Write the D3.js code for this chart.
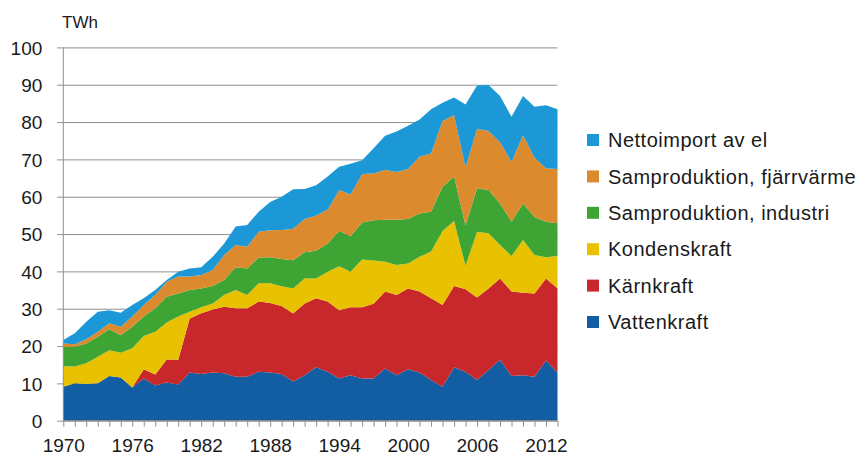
<!DOCTYPE html>
<html>
<head>
<meta charset="utf-8">
<script src="https://cdn.jsdelivr.net/npm/d3@7"></script>
<style>
	body { margin: 0; background: #fff; }
	text { font-family: "Liberation Sans", Arial, sans-serif; fill: #1a1a1a; }
	.axis path { display: none; }
	.axis line { stroke: #8f8f8f; }
</style>
</head>
<body>
<svg id="svg"></svg>
<script>
const years = d3.range(1970, 2014)

// series values, TWh per year
const vattenkraft = [9.1,10.0,9.8,10.0,12.0,11.6,8.9,11.3,9.4,10.2,9.7,12.9,12.5,12.9,12.7,11.8,11.8,13.1,12.9,12.5,10.5,12.2,14.3,13.1,11.3,12.2,11.3,11.3,14.0,12.2,13.8,12.9,10.9,9.1,14.3,13.1,10.9,13.6,16.3,12.0,12.2,11.8,16.1,12.9]
const karnkraft = [0,0,0,0,0,0,0,2.5,3.0,6.2,6.6,14.5,16.3,16.9,17.8,18.3,18.3,18.8,18.6,18.2,18.2,19.2,18.5,18.8,18.3,18.2,19.1,20.0,20.6,21.5,21.6,21.7,21.9,21.9,21.8,22.1,22.1,21.8,21.8,22.6,22.1,22.3,22.0,22.5]
const kondenskraft = [5.5,4.5,5.6,7.1,6.9,6.6,10.5,8.9,11.4,9.9,11.6,1.8,1.6,1.6,3.2,4.9,3.6,4.9,5.3,5.3,6.7,6.7,5.3,8.0,11.8,9.5,12.8,11.6,8.0,8.0,6.7,9.3,12.5,19.8,17.4,6.3,17.6,14.8,9.0,9.5,14.1,10.3,5.7,8.7]
const sampIndustri = [5.2,5.3,5.3,5.4,5.6,4.7,5.8,5.2,6.3,6.9,6.2,5.8,5.0,4.7,4.0,6.1,7.1,6.9,7.0,7.3,7.6,7.0,7.4,7.6,9.4,9.5,9.9,10.8,11.2,12.1,11.9,11.6,10.7,11.9,11.9,10.8,11.7,11.6,11.1,9.2,9.8,10.2,9.5,8.8]
const sampFjarrvarme = [0.9,0.7,1.1,1.3,1.6,2.3,2.7,3.1,3.6,4.0,4.5,3.6,3.6,4.3,6.7,6.0,5.8,6.9,7.2,7.8,8.4,8.9,9.5,9.0,11.0,11.2,13.0,12.5,13.4,12.8,13.4,15.3,15.6,17.6,16.5,15.5,15.9,15.8,16.4,16.0,18.3,15.9,14.3,14.5]
const nettoimport = [0.9,2.9,4.7,5.4,3.5,3.7,3.1,1.8,1.3,0.5,1.3,2.2,2.1,3.5,3.1,4.9,5.8,5.4,7.6,8.9,10.6,8.1,8.1,8.9,6.2,8.2,3.7,6.8,9.1,10.9,11.6,9.9,11.8,4.9,4.7,16.9,11.6,12.3,12.4,12.1,10.5,13.6,16.9,16.0]

const seriesNames = ['Vattenkraft', 'Kärnkraft', 'Kondenskraft', 'Samproduktion, industri', 'Samproduktion, fjärrvärme', 'Nettoimport av el']
const seriesValues = [vattenkraft, karnkraft, kondenskraft, sampIndustri, sampFjarrvarme, nettoimport]
const colors = ['#135ea2', '#c8282c', '#e8c200', '#3ea535', '#dc8a2e', '#1b98d5']
const yTicks = d3.range(0, 101, 10)
const xLabelYears = d3.range(1970, 2014, 6)

const margin = {top: 47.4, left: 63.3},
	width = 557.5 - 63.3,
	height = 420.7 - 47.4

const svg = d3.select('#svg')
	.attr('width', 861)
	.attr('height', 457)

const g = svg.append('g')
	.attr('transform', `translate(${margin.left},${margin.top})`)

const x = d3.scaleLinear().domain([1970, 2013]).range([0, width])
const y = d3.scaleLinear().domain([0, 100]).range([height, 0])

// rows for the stack
const table = years.map((yr, i) => {
	const row = {year: yr}
	seriesNames.forEach((n, k) => { row[n] = seriesValues[k][i] })
	return row
})
const stacked = d3.stack().keys(seriesNames)(table)

// grid + y axis
g.append('g')
	.attr('class', 'axis')
	.call(d3.axisLeft(y).tickValues(yTicks).tickSize(-width).tickPadding(21))
	.call(a => a.selectAll('.tick line').attr('x1', -6))
	.call(a => a.selectAll('.tick text').style('font-size', '19px').attr('dy', '0.35em'))

const area = d3.area()
	.x(d => x(d.data.year))
	.y0(d => y(d[0]))
	.y1(d => y(d[1]))

g.selectAll('path.layer')
	.data(stacked)
	.enter()
	.append('path')
	.attr('class', 'layer')
	.attr('fill', (d, i) => colors[i])
	.attr('d', area)

// left axis line
g.append('line')
	.attr('x1', 0).attr('x2', 0)
	.attr('y1', 0).attr('y2', height)
	.attr('stroke', '#8f8f8f')

// x axis
g.append('g')
	.attr('class', 'axis')
	.attr('transform', `translate(0,${height})`)
	.call(d3.axisBottom(x).tickValues(years).tickSize(6).tickPadding(12)
		.tickFormat(d => xLabelYears.includes(d) ? d : ''))
	.call(a => a.selectAll('.tick text').style('font-size', '19px'))

g.append('line')
	.attr('x1', 0).attr('x2', width)
	.attr('y1', height).attr('y2', height)
	.attr('stroke', '#8f8f8f')

svg.append('text')
	.attr('x', 62)
	.attr('y', 28)
	.style('font-size', '17px')
	.text('TWh')

// legend, top series first
const legend = svg.append('g')
	.attr('transform', 'translate(587,140)')
const legendOrder = seriesNames.map((n, i) => i).reverse()
legendOrder.forEach((k, j) => {
	const row = legend.append('g').attr('transform', `translate(0,${j * 36.4})`)
	row.append('rect')
		.attr('x', 0).attr('y', -6)
		.attr('width', 12).attr('height', 12)
		.attr('fill', colors[k])
	row.append('text')
		.attr('x', 21).attr('y', 0)
		.attr('dy', '0.36em')
		.style('font-size', '20px')
		.style('letter-spacing', '0.5px')
		.text(seriesNames[k])
})
</script>
</body>
</html>
